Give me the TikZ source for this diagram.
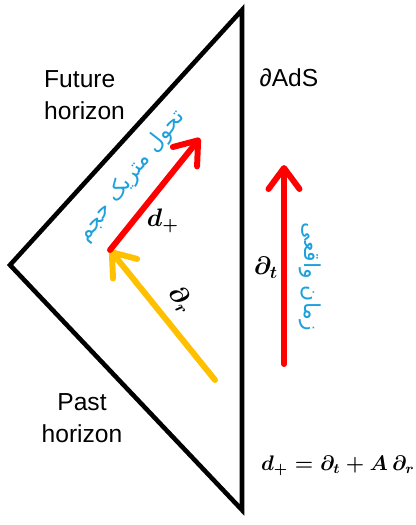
\documentclass[tikz,border=0pt]{standalone}
\usepackage{fontspec}
\setmainfont{Liberation Sans}
\newfontfamily\arabicfont[Script=Arabic]{DejaVu Sans}
\TeXXeTstate=1
\usetikzlibrary{arrows.meta,positioning}
\definecolor{adsred}{RGB}{255,0,0}
\definecolor{adsgold}{RGB}{255,192,0}
\definecolor{adscyan}{RGB}{30,160,220}

\begin{document}
\begin{tikzpicture}[x=0.02cm, y=0.02cm, every node/.style={font=\fontsize{14}{18}\selectfont}]
  \tikzset{
    horizon/.style={line width=2.6pt, line join=miter},
    vec/.style={line width=3.4pt, line cap=round, -{Straight Barb[round, length=0.42cm, width=0.62cm]}},
    fatext/.style={text=adscyan, font=\fontsize{12.5}{14}\arabicfont},
    boldlbl/.style={font=\fontsize{14}{17}\selectfont\boldmath}
  }
  \useasboundingbox (0,0) rectangle (416,-525);

  % Penrose diagram: boundary and horizons
  \coordinate (top) at (242,-10);
  \coordinate (left) at (10,-265);
  \coordinate (bottom) at (242,-510);
  \draw[horizon] (top) -- (left) -- (bottom) -- cycle;

  \node[align=left, anchor=west] (future) at (38,-95) {Future\\horizon};
  \node[align=center] (past) at (82,-418) {Past\\horizon};
  \node (bdry) at (289,-78) {∂AdS};

  % Bulk vectors
  \coordinate (base) at (110,-250);
  \coordinate (dplus) at (200,-138);
  \coordinate (rtail) at (215,-380);
  \draw[vec, adsgold] (rtail) -- (base);
  \draw[vec, adsred] (base) -- (dplus);
  \node[boldlbl] (dlbl) at (163,-221) {$d_+$};
  \node[boldlbl, rotate=-52] (rlbl) at (181,-300) {$\partial_r$};
  \node[fatext, rotate=52] (bulk) at (131,-176) {\beginR تحول متریک حجم\endR};

  % Boundary time
  \coordinate (ttail) at (284,-364);
  \coordinate (thead) at (284,-165);
  \draw[vec, adsred] (ttail) -- (thead);
  \node[boldlbl] (tlbl) at (266,-268) {$\partial_t$};
  \node[fatext, rotate=-90] (real) at (310,-277) {\beginR زمان واقعی\endR};

  \node[boldlbl, font=\fontsize{12}{15}\selectfont\boldmath, anchor=east, inner sep=0pt] (eq) at (415,-466) {$d_+ = \partial_t + A\,\partial_r$};
\end{tikzpicture}
\end{document}
